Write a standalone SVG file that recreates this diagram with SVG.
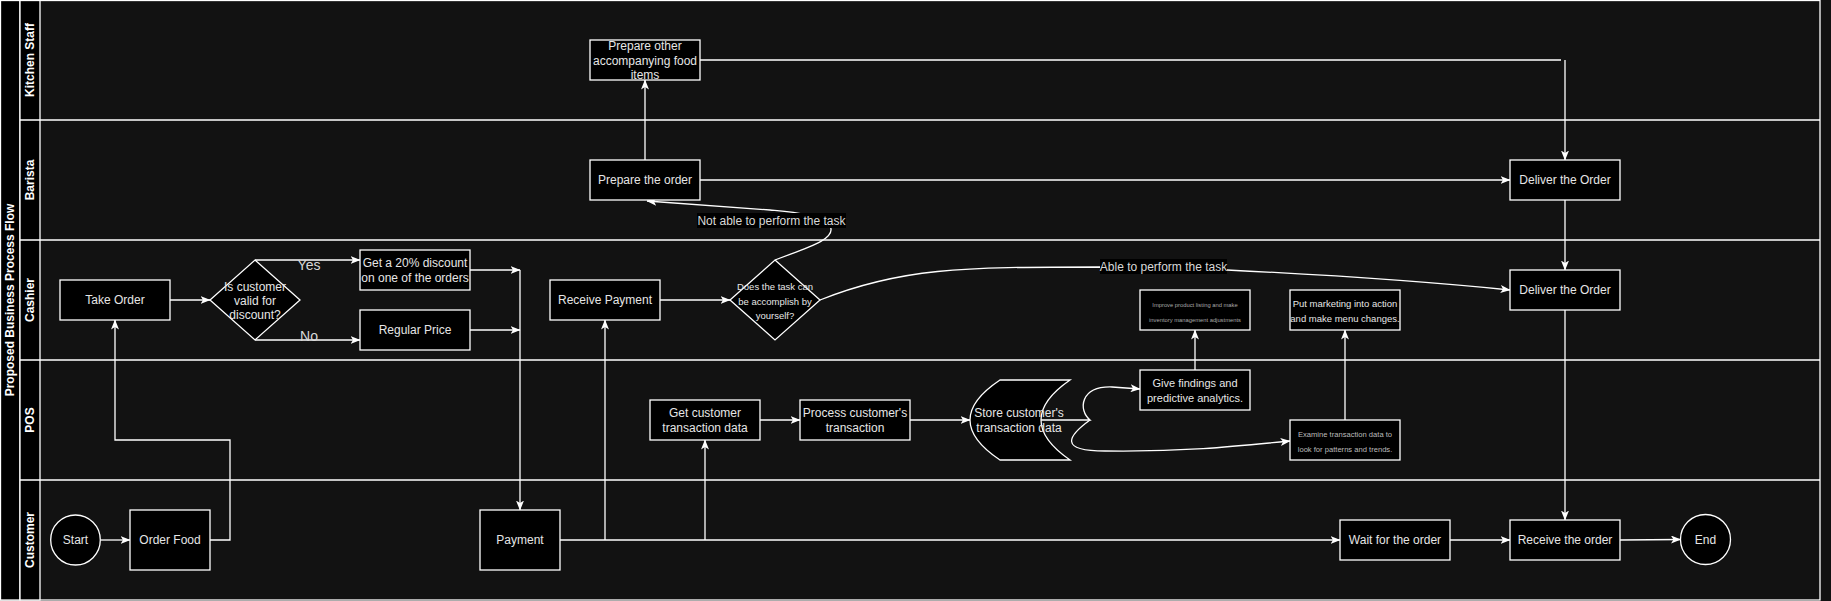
<svg xmlns="http://www.w3.org/2000/svg" width="1831" height="601" viewBox="0 0 1831 601">
<style>
text{font-family:"Liberation Sans",Arial,Helvetica,sans-serif;text-anchor:middle;}
.box{fill:#000;stroke:#fff;stroke-width:1.3;}
.t{font-size:12px;fill:#e6e6e6;}
.lane{font-size:12px;font-weight:bold;fill:#fff;}
.edge{fill:none;stroke:#fff;stroke-width:1.3;}
.lbl{font-size:12px;fill:#d8d8d8;}
.lblbg{fill:#000;}
</style>
<defs>
<marker id="arr" viewBox="0 0 10 8" refX="9.5" refY="4" markerWidth="10" markerHeight="8" markerUnits="userSpaceOnUse" orient="auto">
<path d="M0,0 L10,4 L0,8 L2.5,4 Z" fill="#fff"/>
</marker>
</defs>
<rect x="0" y="0" width="1831" height="601" fill="#121212"/>
<g id="pool">
<rect x="0.5" y="0.5" width="1819.5" height="599.5" fill="#121212" stroke="#fff" stroke-width="1.3"/>
<rect x="0.5" y="0.5" width="19.5" height="599.5" fill="#000" stroke="#fff" stroke-width="1.3"/>
<rect x="20" y="0.5" width="20" height="599.5" fill="#000" stroke="#fff" stroke-width="1.3"/>
<path d="M20,120 H1820 M20,240 H1820 M20,360 H1820 M20,480 H1820" stroke="#fff" stroke-width="1.3"/>
<text class="lane" transform="translate(14,300) rotate(-90)">Proposed Business Process Flow</text>
<text class="lane" transform="translate(34,60) rotate(-90)">Kitchen Staff</text>
<text class="lane" transform="translate(34,180) rotate(-90)">Barista</text>
<text class="lane" transform="translate(34,300) rotate(-90)">Cashier</text>
<text class="lane" transform="translate(34,420) rotate(-90)">POS</text>
<text class="lane" transform="translate(34,540) rotate(-90)">Customer</text>
</g>
<g id="connectors">
<path class="edge" d="M100.5,540 L130,540" marker-end="url(#arr)"/>
<path class="edge" d="M210,540 L230,540 L230,440 L115,440 L115,320" marker-end="url(#arr)"/>
<path class="edge" d="M170,300 L210,300" marker-end="url(#arr)"/>
<path class="edge" d="M255,260 L360,260" marker-end="url(#arr)"/>
<path class="edge" d="M255,340 L360,340" marker-end="url(#arr)"/>
<path class="edge" d="M470,270 L520,270" marker-end="url(#arr)"/>
<path class="edge" d="M470,330 L520,330" marker-end="url(#arr)"/>
<path class="edge" d="M520,270 L520,510" marker-end="url(#arr)"/>
<path class="edge" d="M560,540 L1340,540" marker-end="url(#arr)"/>
<path class="edge" d="M605,540 L605,320" marker-end="url(#arr)"/>
<path class="edge" d="M705,540 L705,440" marker-end="url(#arr)"/>
<path class="edge" d="M660,300 L730,300" marker-end="url(#arr)"/>
<path class="edge" d="M760,420 L800,420" marker-end="url(#arr)"/>
<path class="edge" d="M910,420 L970,420" marker-end="url(#arr)"/>
<path class="edge" d="M775,260 C800,250 838,240 830,226 C820,214 790,212 770,210 L647,201" marker-end="url(#arr)"/>
<path class="edge" d="M645,160 L645,80" marker-end="url(#arr)"/>
<path class="edge" d="M700,180 L1510,180" marker-end="url(#arr)"/>
<path class="edge" d="M700,60 L1561,60 M1565,60 L1565,160" marker-end="url(#arr)"/>
<path class="edge" d="M1565,200 L1565,270" marker-end="url(#arr)"/>
<path class="edge" d="M820,300 C900,268 960,267 1100,267 L1227,270 C1350,276 1440,283 1510,290" marker-end="url(#arr)"/>
<path class="edge" d="M1565,310 L1565,520" marker-end="url(#arr)"/>
<path class="edge" d="M1450,540 L1510,540" marker-end="url(#arr)"/>
<path class="edge" d="M1620,540 L1680.5,539.5" marker-end="url(#arr)"/>
<path class="edge" d="M1041,420 L1090,420 C1078,410 1080,386 1112,387 L1140,389" marker-end="url(#arr)"/>
<path class="edge" d="M1090,420 C1068,436 1058,451 1105,451 C1180,452 1230,447 1290,441" marker-end="url(#arr)"/>
<path class="edge" d="M1195,370 L1195,330" marker-end="url(#arr)"/>
<path class="edge" d="M1345,420 L1345,330" marker-end="url(#arr)"/>
<text class="lbl" x="309" y="270" style="font-size:14px">Yes</text>
<text class="lbl" x="309" y="341" style="font-size:14px">No</text>
<rect class="lblbg" x="697" y="213" width="149" height="15"/>
<text class="lbl" x="771.5" y="224.5">Not able to perform the task</text>
<rect class="lblbg" x="1100" y="259" width="127" height="15"/>
<text class="lbl" x="1163.5" y="270.5">Able to perform the task</text>
</g>
<g id="start"><ellipse class="box" cx="75.5" cy="540" rx="24.8" ry="25"/><text class="t" x="75.5" y="544">Start</text></g>
<g id="order-food"><rect class="box" x="130" y="510" width="80" height="60"/><text class="t" x="170" y="544">Order Food</text></g>
<g id="take-order"><rect class="box" x="60" y="280" width="110" height="40"/><text class="t" x="115" y="304">Take Order</text></g>
<g id="discount-check"><path class="box" d="M255,260 L300,300 L255,340 L210,300 Z"/><text class="t" x="255" y="290.5">Is customer</text><text class="t" x="255" y="304.5">valid for</text><text class="t" x="255" y="318.5">discount?</text></g>
<g id="discount"><rect class="box" x="360" y="250" width="110" height="40"/><text class="t" x="415" y="267">Get a 20% discount</text><text class="t" x="415" y="281.5">on one of the orders</text></g>
<g id="regular-price"><rect class="box" x="360" y="310" width="110" height="40"/><text class="t" x="415" y="334">Regular Price</text></g>
<g id="payment"><rect class="box" x="480" y="510" width="80" height="60"/><text class="t" x="520" y="544">Payment</text></g>
<g id="receive-payment"><rect class="box" x="550" y="280" width="110" height="40"/><text class="t" x="605" y="304">Receive Payment</text></g>
<g id="task-check"><path class="box" d="M775,260 L820,300 L775,340 L730,300 Z"/><text class="t" x="775" y="290" style="font-size:9.5px">Does the task can</text><text class="t" x="775" y="304.5" style="font-size:9.5px">be accomplish by</text><text class="t" x="775" y="319" style="font-size:9.5px">yourself?</text></g>
<g id="prepare-order"><rect class="box" x="590" y="160" width="110" height="40"/><text class="t" x="645" y="184">Prepare the order</text></g>
<g id="prepare-other"><rect class="box" x="590" y="40" width="110" height="40"/><text class="t" x="645" y="50">Prepare other</text><text class="t" x="645" y="64.5">accompanying food</text><text class="t" x="645" y="79">items</text></g>
<g id="deliver-barista"><rect class="box" x="1510" y="160" width="110" height="40"/><text class="t" x="1565" y="184">Deliver the Order</text></g>
<g id="deliver-cashier"><rect class="box" x="1510" y="270" width="110" height="40"/><text class="t" x="1565" y="294">Deliver the Order</text></g>
<g id="get-data"><rect class="box" x="650" y="400" width="110" height="40"/><text class="t" x="705" y="416.5">Get customer</text><text class="t" x="705" y="431.5">transaction data</text></g>
<g id="process"><rect class="box" x="800" y="400" width="110" height="40"/><text class="t" x="855" y="416.5">Process customer's</text><text class="t" x="855" y="431.5">transaction</text></g>
<g id="store"><path class="box" d="M1000,380 L1070,380 Q1012,420 1070,460 L1000,460 Q940,420 1000,380 Z"/><text class="t" x="1019" y="416.5">Store customer's</text><text class="t" x="1019" y="431.5">transaction data</text></g>
<g id="findings"><rect class="box" x="1140" y="370" width="110" height="40"/><text class="t" x="1195" y="387" style="font-size:11px">Give findings and</text><text class="t" x="1195" y="402" style="font-size:11px">predictive analytics.</text></g>
<g id="improve"><rect class="box" x="1140" y="290" width="110" height="40"/><text class="t" x="1195" y="307" style="font-size:5.8px;fill:#aaa">Improve product listing and make</text><text class="t" x="1195" y="322" style="font-size:5.8px;fill:#aaa">inventory management adjustments</text></g>
<g id="examine"><rect class="box" x="1290" y="420" width="110" height="40"/><text class="t" x="1345" y="437" style="font-size:7.6px;fill:#bbb">Examine transaction data to</text><text class="t" x="1345" y="452" style="font-size:7.6px;fill:#bbb">look for patterns and trends.</text></g>
<g id="marketing"><rect class="box" x="1290" y="290" width="110" height="40"/><text class="t" x="1345" y="306.5" style="font-size:9.5px">Put marketing into action</text><text class="t" x="1345" y="322" style="font-size:9.5px">and make menu changes.</text></g>
<g id="wait"><rect class="box" x="1340" y="520" width="110" height="40"/><text class="t" x="1395" y="544">Wait for the order</text></g>
<g id="receive-order"><rect class="box" x="1510" y="520" width="110" height="40"/><text class="t" x="1565" y="544">Receive the order</text></g>
<g id="end"><ellipse class="box" cx="1705.5" cy="539.5" rx="25" ry="25"/><text class="t" x="1705.5" y="543.5">End</text></g>
</svg>
